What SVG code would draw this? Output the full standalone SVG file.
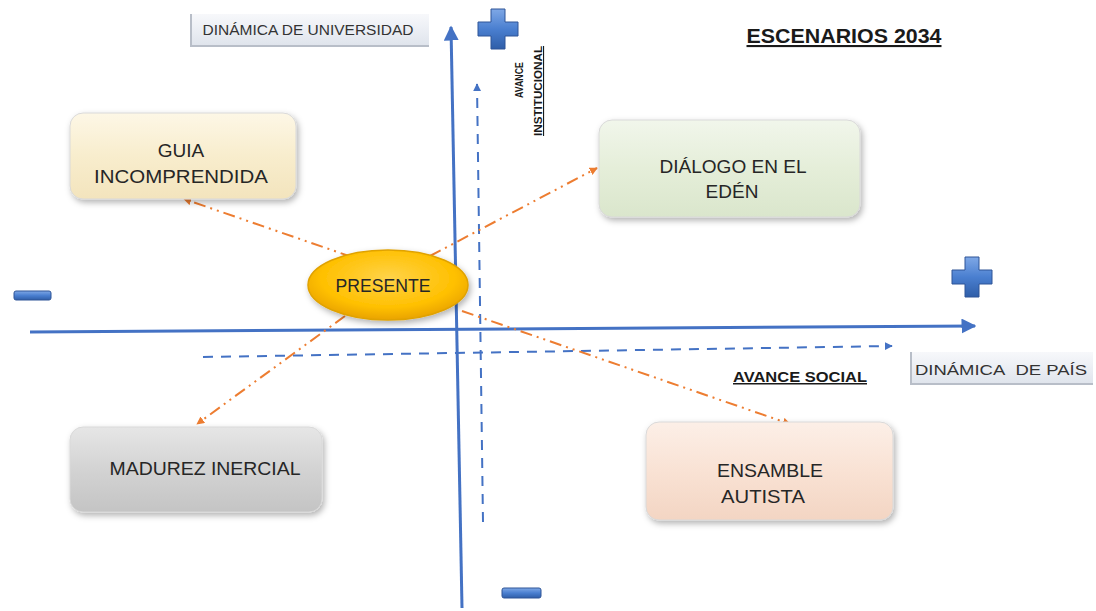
<svg xmlns="http://www.w3.org/2000/svg" width="1096" height="611" viewBox="0 0 1096 611">
<style>
.lbl{font-family:"Liberation Sans",Arial,sans-serif;font-size:19px;fill:#262626;text-anchor:middle}
.tag{font-family:"Liberation Sans",Arial,sans-serif;font-size:14px;fill:#333;text-anchor:middle}
.ttl{font-family:"Liberation Sans",Arial,sans-serif;font-weight:bold;fill:#1a1a1a;text-anchor:middle;text-decoration:underline}
.axis{stroke:#4472c4;stroke-width:3;fill:none}
.dash{stroke:#4472c4;stroke-width:2;fill:none;stroke-dasharray:10 8}
.orng{stroke:#ed7d31;stroke-width:2;fill:none;stroke-dasharray:12 5 2 5 2 5}
.box{stroke:#d9d9d9;stroke-width:1;filter:url(#sh)}
</style>
<defs>
<filter id="sh" x="-10%" y="-10%" width="130%" height="140%">
<feDropShadow dx="2" dy="3" stdDeviation="3" flood-color="#000" flood-opacity="0.3"/>
</filter>
<linearGradient id="gCream" x1="0" y1="0" x2="0" y2="1"><stop offset="0" stop-color="#fdf7e6"/><stop offset="0.5" stop-color="#f8edcd"/><stop offset="1" stop-color="#f3e4bd"/></linearGradient>
<linearGradient id="gGreen" x1="0" y1="0" x2="0" y2="1"><stop offset="0" stop-color="#f1f6eb"/><stop offset="0.5" stop-color="#e5eed9"/><stop offset="1" stop-color="#dae6cc"/></linearGradient>
<linearGradient id="gGray" x1="0" y1="0" x2="0" y2="1"><stop offset="0" stop-color="#e6e6e6"/><stop offset="0.5" stop-color="#d3d3d3"/><stop offset="1" stop-color="#c4c4c4"/></linearGradient>
<linearGradient id="gPeach" x1="0" y1="0" x2="0" y2="1"><stop offset="0" stop-color="#fcefe7"/><stop offset="0.5" stop-color="#f9e2d4"/><stop offset="1" stop-color="#f3d5c3"/></linearGradient>
<linearGradient id="gTag" x1="0" y1="0" x2="0" y2="1"><stop offset="0" stop-color="#f7f8fb"/><stop offset="1" stop-color="#dfe4ec"/></linearGradient>
<radialGradient id="gGold" cx="0.5" cy="0.4" r="0.6"><stop offset="0" stop-color="#ffd34a"/><stop offset="0.7" stop-color="#ffc000"/><stop offset="1" stop-color="#e9a300"/></radialGradient>
<linearGradient id="gBlue" x1="0" y1="0" x2="0" y2="1"><stop offset="0" stop-color="#7fa8e6"/><stop offset="0.5" stop-color="#4a7fd0"/><stop offset="1" stop-color="#2f5ea8"/></linearGradient>
<marker id="aBlue" viewBox="0 0 10 10" refX="9" refY="5" markerWidth="5" markerHeight="5" orient="auto" markerUnits="strokeWidth">
<path d="M0,0 L10,5 L0,10 z" fill="#4472c4"/></marker>
<marker id="aBlueS" viewBox="0 0 10 10" refX="9" refY="5" markerWidth="4" markerHeight="4" orient="auto" markerUnits="strokeWidth">
<path d="M0,0 L10,5 L0,10 z" fill="#4472c4"/></marker>
<marker id="aOr" viewBox="0 0 10 10" refX="9" refY="5" markerWidth="4" markerHeight="4" orient="auto" markerUnits="strokeWidth">
<path d="M0,0 L10,5 L0,10 z" fill="#ed7d31"/></marker>
</defs>
<rect width="1096" height="611" fill="#ffffff"/>

<g id="connectors">
<line class="axis" x1="30" y1="332" x2="975" y2="326" marker-end="url(#aBlue)"/>
<line class="axis" x1="462" y1="608" x2="451" y2="27" marker-end="url(#aBlue)"/>
<line class="dash" x1="203" y1="357" x2="892" y2="346" marker-end="url(#aBlueS)"/>
<line class="dash" x1="483" y1="522" x2="477" y2="84" marker-end="url(#aBlueS)"/>
<line class="orng" x1="352" y1="257" x2="184" y2="199" marker-end="url(#aOr)"/>
<line class="orng" x1="430" y1="256" x2="597" y2="168" marker-end="url(#aOr)"/>
<line class="orng" x1="345" y1="316" x2="197" y2="424" marker-end="url(#aOr)"/>
<line class="orng" x1="462" y1="311" x2="790" y2="424" marker-end="url(#aOr)"/>
</g>

<g id="guia">
<rect class="box" x="70" y="113" width="226" height="86" rx="13" fill="url(#gCream)"/>
<text class="lbl" x="181" y="157">GUIA</text>
<text class="lbl" x="181" y="183" textLength="174" lengthAdjust="spacingAndGlyphs">INCOMPRENDIDA</text>
</g>
<g id="dialogo">
<rect class="box" x="599" y="120" width="261" height="97" rx="13" fill="url(#gGreen)"/>
<text class="lbl" x="733" y="173" textLength="147" lengthAdjust="spacingAndGlyphs">DIÁLOGO EN EL</text>
<text class="lbl" x="732" y="198">EDÉN</text>
</g>
<g id="madurez">
<rect class="box" x="70" y="427" width="252" height="85" rx="13" fill="url(#gGray)"/>
<text class="lbl" x="205" y="475" textLength="191" lengthAdjust="spacingAndGlyphs">MADUREZ INERCIAL</text>
</g>
<g id="ensamble">
<rect class="box" x="646" y="422" width="247" height="98" rx="13" fill="url(#gPeach)"/>
<text class="lbl" x="770" y="477" textLength="106" lengthAdjust="spacingAndGlyphs">ENSAMBLE</text>
<text class="lbl" x="763" y="503" textLength="84" lengthAdjust="spacingAndGlyphs">AUTISTA</text>
</g>
<g id="presente">
<ellipse cx="388" cy="285" rx="80" ry="35" fill="url(#gGold)" stroke="#e0a200" stroke-width="1.5" filter="url(#sh)"/>
<text class="lbl" x="383" y="292" font-size="17" fill="#3a2c05" textLength="95" lengthAdjust="spacingAndGlyphs">PRESENTE</text>
</g>

<g id="tag-universidad">
<rect x="191" y="14" width="238" height="32" fill="url(#gTag)"/>
<path d="M191,14 L191,46 L429,46" fill="none" stroke="#b8bec8" stroke-width="2"/>
<text class="tag" x="308" y="35" textLength="211" lengthAdjust="spacingAndGlyphs">DINÁMICA DE UNIVERSIDAD</text>
</g>
<g id="tag-pais">
<rect x="911" y="352" width="182" height="32" fill="url(#gTag)"/>
<path d="M911,352 L911,384 L1093,384" fill="none" stroke="#b8bec8" stroke-width="2"/>
<text class="tag" x="1001" y="375" font-size="15" textLength="172" lengthAdjust="spacingAndGlyphs">DINÁMICA&#160; DE PAÍS</text>
</g>

<text class="ttl" x="844" y="43" font-size="21" textLength="195" lengthAdjust="spacingAndGlyphs">ESCENARIOS 2034</text>
<text class="ttl" x="800" y="382" font-size="15" textLength="134" lengthAdjust="spacingAndGlyphs">AVANCE SOCIAL</text>
<text class="ttl" x="0" y="0" font-size="11" transform="translate(523,80) rotate(-90)" style="text-decoration:none" textLength="36" lengthAdjust="spacingAndGlyphs">AVANCE</text>
<text class="ttl" x="0" y="0" font-size="11" transform="translate(542,91) rotate(-90)" textLength="90" lengthAdjust="spacingAndGlyphs">INSTITUCIONAL</text>

<g id="signs">
<path d="M491,9 h14 v13 h13 v14 h-13 v13 h-14 v-13 h-13 v-14 h13 z" fill="url(#gBlue)" stroke="#2f5597" stroke-width="1"/>
<path d="M965,257 h14 v13 h13 v14 h-13 v13 h-14 v-13 h-13 v-14 h13 z" fill="url(#gBlue)" stroke="#2f5597" stroke-width="1"/>
<rect x="14" y="291" width="37" height="9" rx="2" fill="url(#gBlue)" stroke="#2f5597" stroke-width="1"/>
<rect x="502" y="588" width="39" height="10" rx="2" fill="url(#gBlue)" stroke="#2f5597" stroke-width="1"/>
</g>
</svg>
